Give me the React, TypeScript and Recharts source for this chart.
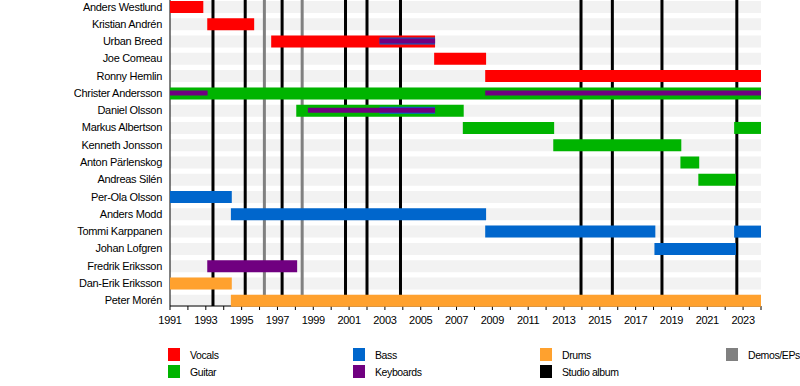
import React from 'react';
import { BarChart, Bar, XAxis, YAxis, ReferenceLine } from 'recharts';

type Span = [number, number];

const DOMAIN: Span = [1991, 2024];

const members = [
  'Anders Westlund', 'Kristian Andrén', 'Urban Breed', 'Joe Comeau', 'Ronny Hemlin',
  'Christer Andersson', 'Daniel Olsson', 'Markus Albertson', 'Kenneth Jonsson',
  'Anton Pärlenskog', 'Andreas Silén', 'Per-Ola Olsson', 'Anders Modd',
  'Tommi Karppanen', 'Johan Lofgren', 'Fredrik Eriksson', 'Dan-Erik Eriksson', 'Peter Morén',
];

const vocals: Record<string, Span> = {
  'Anders Westlund': [1991, 1992.86],
  'Kristian Andrén': [1993.08, 1995.7],
  'Urban Breed': [1996.65, 2005.8],
  'Joe Comeau': [2005.75, 2008.65],
  'Ronny Hemlin': [2008.6, 2024],
};
const guitar: Record<string, Span> = {
  'Christer Andersson': [1991, 2024],
  'Daniel Olsson': [1998.05, 2007.4],
  'Markus Albertson': [2007.35, 2012.45],
  'Kenneth Jonsson': [2012.4, 2019.55],
  'Anton Pärlenskog': [2019.5, 2020.55],
  'Andreas Silén': [2020.5, 2022.6],
};
const guitarReturn: Record<string, Span> = { 'Markus Albertson': [2022.5, 2024] };
const bass: Record<string, Span> = {
  'Per-Ola Olsson': [1991, 1994.45],
  'Anders Modd': [1994.4, 2008.65],
  'Tommi Karppanen': [2008.6, 2018.1],
  'Johan Lofgren': [2018.05, 2022.6],
};
const bassReturn: Record<string, Span> = { 'Tommi Karppanen': [2022.5, 2024] };
const bassThin: Record<string, Span> = {
  'Urban Breed': [2002.7, 2005.8],
  'Daniel Olsson': [2002.7, 2005.8],
};
const drums: Record<string, Span> = {
  'Dan-Erik Eriksson': [1991, 1994.45],
  'Peter Morén': [1994.4, 2024],
};
const keyboards: Record<string, Span> = { 'Fredrik Eriksson': [1993.08, 1998.1] };
const keysThin: Record<string, Span> = {
  'Christer Andersson': [1991, 1993.1],
  'Urban Breed': [2002.7, 2005.8],
  'Daniel Olsson': [1998.7, 2005.8],
};
const keysThinLate: Record<string, Span> = { 'Christer Andersson': [2008.6, 2024] };

const studioAlbums = [1993.4, 1995.2, 1997.26, 2000.8, 2002.0, 2003.87, 2013.95, 2015.7, 2018.47, 2022.65];
const demos = [1996.27, 1998.38];

const years = Array.from({ length: 34 }, (_, i) => 1991 + i);

const COLORS = {
  vocals: '#ff0000',
  guitar: '#00b400',
  bass: '#0066cc',
  drums: '#ffa12e',
  keyboards: '#700080',
  album: '#000000',
  demo: '#808080',
  stripe: '#f2f2f2',
};

// draw order matters: later series sit on top
const SERIES = [
  { key: 'vocals', data: vocals, color: COLORS.vocals, size: 12 },
  { key: 'guitar', data: guitar, color: COLORS.guitar, size: 12 },
  { key: 'guitarReturn', data: guitarReturn, color: COLORS.guitar, size: 12 },
  { key: 'bass', data: bass, color: COLORS.bass, size: 12 },
  { key: 'bassReturn', data: bassReturn, color: COLORS.bass, size: 12 },
  { key: 'drums', data: drums, color: COLORS.drums, size: 12 },
  { key: 'keyboards', data: keyboards, color: COLORS.keyboards, size: 12 },
  { key: 'bassThin', data: bassThin, color: COLORS.bass, size: 7 },
  { key: 'keysThin', data: keysThin, color: COLORS.keyboards, size: 5 },
  { key: 'keysThinLate', data: keysThinLate, color: COLORS.keyboards, size: 5 },
];

const rows = members.map((name) => {
  const row: any = { name, stripe: DOMAIN };
  SERIES.forEach((s) => { row[s.key] = s.data[name] ?? null; });
  return row;
});

const LEGEND = [
  { label: 'Vocals', color: COLORS.vocals, col: 0, row: 0 },
  { label: 'Guitar', color: COLORS.guitar, col: 0, row: 1 },
  { label: 'Bass', color: COLORS.bass, col: 1, row: 0 },
  { label: 'Keyboards', color: COLORS.keyboards, col: 1, row: 1 },
  { label: 'Drums', color: COLORS.drums, col: 2, row: 0 },
  { label: 'Studio album', color: COLORS.album, col: 2, row: 1 },
  { label: 'Demos/EPs', color: COLORS.demo, col: 3, row: 0 },
];
const legendCols = [168, 353, 540, 726];
const legendRows = [348, 365];

const pad = { top: -2, bottom: -3 };
const W = 800;
const H = 336;

export default function App() {
  return (
    <div style={{ position: 'absolute', left: 0, top: 0, width: 800, height: 386, fontFamily: '"Liberation Sans", Arial, sans-serif', background: '#fff', letterSpacing: '-0.3px' }}>
      {/* back layer: stripes, axes, album lines */}
      <div style={{ position: 'absolute', left: 0, top: 0 }}>
        <BarChart layout="vertical" width={W} height={H} data={rows} margin={{ top: 0, right: 39, bottom: 0, left: 0 }}>
          <XAxis
            type="number"
            domain={DOMAIN}
            ticks={years}
            interval={0}
            allowDataOverflow
            tickFormatter={(y: number) => (y % 2 === 1 ? String(y) : '')}
            tick={{ fontSize: 11, fill: '#000' }}
            tickSize={4}
            tickMargin={6}
            stroke="#000"
            height={30}
          />
          <YAxis
            type="category"
            dataKey="name"
            width={170}
            tickLine={false}
            tickSize={0}
            tickMargin={8}
            tick={{ fontSize: 11, fill: '#000' }}
            stroke="#000"
            interval={0}
            padding={pad}
          />
          <Bar dataKey="stripe" fill={COLORS.stripe} barSize={12} isAnimationActive={false} />
          {studioAlbums.map((x) => (
            <ReferenceLine key={`a${x}`} x={x} stroke={COLORS.album} strokeWidth={3} />
          ))}
          {demos.map((x) => (
            <ReferenceLine key={`d${x}`} x={x} stroke={COLORS.demo} strokeWidth={3} />
          ))}
        </BarChart>
      </div>
      {/* front layer: member bars over the lines */}
      <div style={{ position: 'absolute', left: 0, top: 0 }}>
        <BarChart layout="vertical" width={W} height={H} data={rows} margin={{ top: 0, right: 39, bottom: 30, left: 170 }}>
          <XAxis type="number" domain={DOMAIN} allowDataOverflow hide />
          {SERIES.map((s) => (
            <YAxis key={s.key} yAxisId={s.key} type="category" dataKey="name" hide width={0} padding={pad} />
          ))}
          {SERIES.map((s) => (
            <Bar key={s.key} yAxisId={s.key} dataKey={s.key} fill={s.color} barSize={s.size} isAnimationActive={false} />
          ))}
        </BarChart>
      </div>
      {LEGEND.map((l) => (
        <div key={l.label} style={{ position: 'absolute', left: legendCols[l.col], top: legendRows[l.row], height: 13, display: 'flex', alignItems: 'center', fontSize: 10.5, letterSpacing: '-0.4px', color: '#000', whiteSpace: 'nowrap' }}>
          <div style={{ width: 12, height: 13, background: l.color, marginRight: 10 }} />
          <span>{l.label}</span>
        </div>
      ))}
    </div>
  );
}
